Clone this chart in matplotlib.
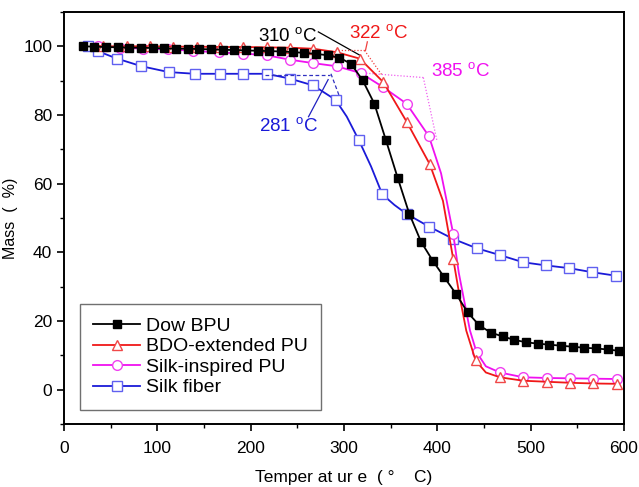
import matplotlib
matplotlib.use('Agg')
import matplotlib.pyplot as plt
from matplotlib.ticker import MultipleLocator

plt.rcParams['font.family'] = ['Liberation Sans', 'DejaVu Sans']
plt.rcParams['mathtext.fontset'] = 'custom'
plt.rcParams['mathtext.rm'] = 'Liberation Sans'

# Dow BPU (filled black squares)
dow_x = [20, 32.5, 45, 57.5, 70, 82.5, 95, 107.5, 120, 132.5, 145, 157.5, 170, 182.5,
         195, 207.5, 220, 232.5, 245, 257.5, 270, 282.5, 295, 307.5, 320, 332.5, 345,
         357.5, 370, 382.5, 395, 407.5, 420, 432.5, 445, 457.5, 470, 482.5, 495, 507.5,
         520, 532.5, 545, 557.5, 570, 582.5, 595]
dow_y = [100, 99.9, 99.8, 99.7, 99.6, 99.6, 99.5, 99.4, 99.3, 99.3, 99.2, 99.1, 99.0, 98.9,
         98.8, 98.7, 98.6, 98.5, 98.3, 98.1, 97.8, 97.4, 96.7, 94.9, 90.1, 83.3, 72.6,
         61.7, 51.2, 43.1, 37.6, 32.7, 27.9, 22.5, 18.7, 16.6, 15.5, 14.5, 13.8, 13.4,
         13.1, 12.8, 12.5, 12.2, 12.0, 11.7, 11.3]

# BDO-extended PU (open red triangles)
bdo_x = [30, 42, 67, 92, 117, 142, 167, 192, 217, 242, 267, 292, 317, 342, 367, 392, 406,
         417, 424, 431, 441, 452, 467, 492, 517, 542, 567, 592]
bdo_y = [100.3, 100, 100, 100, 99.9, 99.9, 99.8, 99.8, 99.7, 99.6, 99.3, 98.3, 96.4, 89.6,
         78.1, 65.6, 55, 38.1, 27, 17.2, 8.5, 5.0, 3.6, 2.6, 2.3, 2.0, 1.8, 1.7]
bdo_marks = [1, 2, 3, 4, 5, 6, 7, 8, 9, 10, 11, 12, 13, 14, 15, 17, 20, 22, 23, 24, 25, 26, 27]

# Silk-inspired PU (open magenta circles)
silk_pu_x = [36, 60, 85, 111, 138, 166, 192, 217, 242, 267, 292, 318, 342, 367, 391, 404,
             410, 417, 423, 428, 435, 442, 452, 467, 492, 517, 542, 567, 592]
silk_pu_y = [100.2, 99.6, 99.3, 99.1, 98.7, 98.2, 97.9, 97.4, 96.1, 95.1, 94.2, 92.2, 88.1,
             83.3, 73.8, 63, 55, 45.4, 34, 27, 17.2, 10.9, 6.8, 5.0, 3.6, 3.4, 3.3, 3.2, 3.1]
silk_pu_marks = [0, 1, 2, 3, 4, 5, 6, 7, 8, 9, 10, 11, 12, 13, 14, 17, 21, 23, 24, 25, 26, 27, 28]

# Silk fiber (open blue squares)
fiber_x = [26, 36, 57, 83, 112, 140, 167, 192, 217, 242, 267, 291, 303, 316, 329, 341, 354,
           367, 391, 417, 442, 467, 492, 516, 541, 566, 591]
fiber_y = [100, 98.6, 96.4, 94.2, 92.5, 92.0, 92.0, 92.0, 92.0, 90.6, 88.6, 84.4, 79.5,
           72.6, 65, 56.9, 53.8, 51.2, 47.5, 43.9, 41.2, 39.2, 37.1, 36.2, 35.4, 34.2, 33.2]
fiber_marks = [0, 1, 2, 3, 4, 5, 6, 7, 8, 9, 10, 11, 13, 15, 17, 18, 19, 20, 21, 22, 23, 24, 25, 26]

labels = ['Dow BPU', 'BDO-extended PU', 'Silk-inspired PU', 'Silk fiber']

fig = plt.figure(figsize=(6.39, 4.87), dpi=100)
ax = fig.add_axes([0.1002, 0.1294, 0.8763, 0.846])

ax.plot(dow_x, dow_y, color='black', lw=1.3, marker='s', ms=5.5, mfc='black', mec='black',
        label=labels[0], zorder=5)
ax.plot(bdo_x, bdo_y, color='#f01818', lw=1.3, marker='^', ms=7, mfc='white', mec='#f04848',
        mew=1.0, markevery=bdo_marks, label=labels[1], zorder=4)
ax.plot(silk_pu_x, silk_pu_y, color='#f010f0', lw=1.3, marker='o', ms=7, mfc='white',
        mec='#f040f0', mew=1.0, markevery=silk_pu_marks, label=labels[2], zorder=3)
ax.plot(fiber_x, fiber_y, color='#1a1ad8', lw=1.3, marker='s', ms=6.5, mfc='white',
        mec='#6060f0', mew=1.0, markevery=fiber_marks, label=labels[3], zorder=2)

# onset construction lines
ax.plot([215, 285], [91.5, 91.5], ls=(0, (3, 2)), color='#3030c0', lw=0.9)
ax.plot([286, 295], [92.0, 85.5], ls=(0, (3, 2)), color='#3030c0', lw=0.9)
ax.plot([283, 262], [90.3, 79.5], color='#2020c0', lw=0.9)
ax.text(241, 76.5, r'281 $^{\rm o}$C', color='#1a1ad8', fontsize=13.5, ha='center', va='center')

ax.plot([272.5, 317], [104.2, 97.4], color='black', lw=0.9)
ax.text(240, 102.8, r'310 $^{\rm o}$C', color='black', fontsize=13.5, ha='center', va='center')

ax.plot([290, 322], [98.8, 98.8], ls=(0, (1, 1.5)), color='#f04040', lw=0.9)
ax.plot([322, 341], [98.8, 91.5], ls=(0, (1, 1.5)), color='#f04040', lw=0.9)
ax.plot([325, 323], [101.3, 98.8], color='#f04040', lw=0.9)
ax.text(337.5, 103.6, r'322 $^{\rm o}$C', color='#f01818', fontsize=13.5, ha='center', va='center')

ax.plot([317, 385], [92.3, 90.9], ls=(0, (1, 1.5)), color='#f060f0', lw=0.9)
ax.plot([385, 399.5], [90.9, 72.6], ls=(0, (1, 1.5)), color='#f060f0', lw=0.9)
ax.text(424.5, 92.6, r'385 $^{\rm o}$C', color='#f010f0', fontsize=13.5, ha='center', va='center')

ax.set_xlim(0, 600)
ax.set_ylim(-10, 110)
ax.xaxis.set_major_locator(MultipleLocator(100))
ax.xaxis.set_minor_locator(MultipleLocator(50))
ax.yaxis.set_major_locator(MultipleLocator(20))
ax.yaxis.set_minor_locator(MultipleLocator(10))
ax.set_yticks([0, 20, 40, 60, 80, 100])
ax.tick_params(which='major', direction='out', length=5, width=1.2, labelsize=12.5)
ax.tick_params(axis='x', which='major', pad=7)
ax.tick_params(which='minor', direction='out', length=3, width=1.0)
for s in ax.spines.values():
    s.set_linewidth(1.4)

ax.set_xlabel('Temper at ur e  ( °    C)', fontsize=12.5, labelpad=10)
ax.set_ylabel('Mass  (  %)', fontsize=11.5, labelpad=4)

leg = ax.legend(loc='lower left', bbox_to_anchor=(0.028, 0.034), borderaxespad=0,
                fontsize=14, handlelength=2.4, labelspacing=0.15, fancybox=False,
                framealpha=1, edgecolor='#707070', borderpad=0.7, handletextpad=0.3)
leg.get_frame().set_linewidth(1.0)

fig.savefig('out.png', dpi=100)
